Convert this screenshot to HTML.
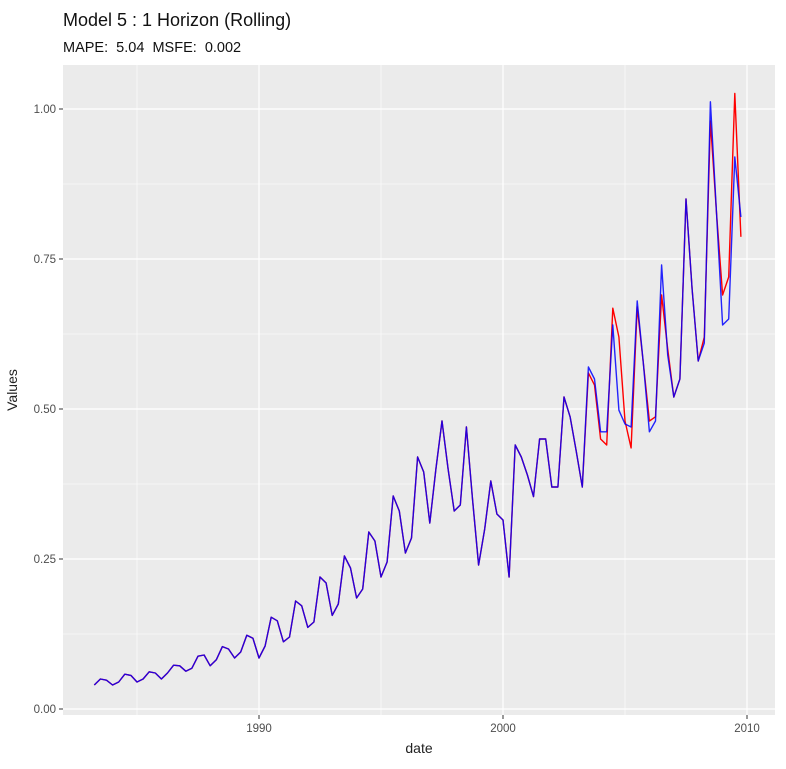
<!DOCTYPE html>
<html><head><meta charset="utf-8"><style>
body{margin:0;background:#fff;font-family:"Liberation Sans",Arial,sans-serif;}
svg text{font-family:"Liberation Sans",Arial,sans-serif;}
</style></head><body>
<svg id="chart" width="786" height="764">
<text x="63" y="26" font-size="18" fill="#111">Model 5 : 1 Horizon (Rolling)</text>
<text x="63" y="52" font-size="14.5" fill="#111" style="white-space:pre" xml:space="preserve">MAPE:  5.04  MSFE:  0.002</text>
<rect x="63" y="65" width="712" height="650" fill="#EBEBEB"/>
<g id="grid"></g>
<g id="axes"></g>
<g id="series"></g>
<text x="419" y="753" font-size="14" fill="#222" text-anchor="middle">date</text>
<text transform="translate(17,390) rotate(-90)" font-size="14" fill="#222" text-anchor="middle">Values</text>
</svg>
<script>
const startYear = 1983.25;
const actualValues = [
0.04,0.05,0.048,
0.04,0.045,0.058,0.056,
0.045,0.05,0.062,0.06,
0.05,0.06,0.073,0.072,
0.063,0.068,0.088,0.09,
0.072,0.082,0.104,0.10,
0.085,0.095,0.123,0.118,
0.085,0.105,0.153,0.147,
0.112,0.12,0.18,0.172,
0.136,0.145,0.22,0.21,
0.156,0.175,0.255,0.235,
0.185,0.2,0.295,0.28,
0.22,0.245,0.355,0.33,
0.26,0.285,0.42,0.395,
0.31,0.40,0.48,0.40,
0.33,0.34,0.47,0.35,
0.24,0.30,0.38,0.325,
0.315,0.22,0.44,0.42,
0.39,0.354,0.45,0.45,
0.37,0.37,0.52,0.487,
0.43,0.37,0.57,0.55,
0.462,0.462,0.64,0.498,
0.475,0.47,0.68,0.577,
0.462,0.48,0.74,0.59,
0.52,0.55,0.85,0.70,
0.58,0.61,1.012,0.827,
0.64,0.65,0.92,0.82];
const forecastValues = [
0.04,0.05,0.048,
0.04,0.045,0.058,0.056,
0.045,0.05,0.062,0.06,
0.05,0.06,0.073,0.072,
0.063,0.068,0.088,0.09,
0.072,0.082,0.104,0.10,
0.085,0.095,0.123,0.118,
0.085,0.105,0.153,0.147,
0.112,0.12,0.18,0.172,
0.136,0.145,0.22,0.21,
0.156,0.175,0.255,0.235,
0.185,0.2,0.295,0.28,
0.22,0.245,0.355,0.33,
0.26,0.285,0.42,0.395,
0.31,0.40,0.48,0.40,
0.33,0.34,0.47,0.35,
0.24,0.30,0.38,0.325,
0.315,0.22,0.44,0.42,
0.39,0.354,0.45,0.45,
0.37,0.37,0.52,0.487,
0.43,0.37,0.56,0.54,
0.45,0.44,0.668,0.62,
0.48,0.435,0.67,0.577,
0.48,0.487,0.69,0.60,
0.52,0.55,0.85,0.70,
0.58,0.62,0.98,0.827,
0.69,0.72,1.026,0.787];
const xTicks = [1990, 2000, 2010];
const xMinor = [1985, 1995, 2005];
const yTicks = [0, 0.25, 0.5, 0.75, 1.0];
const yTickLabels = ["0.00","0.25","0.50","0.75","1.00"];
const yMinor = [0.125, 0.375, 0.625, 0.875];

function xs(t){ return 259 + (t - 1990) * 24.4; }
function ys(v){ return 709 - v * 600; }
const NS = "http://www.w3.org/2000/svg";
function mk(tag, attrs, parent){ const e = document.createElementNS(NS, tag); for (const k in attrs) e.setAttribute(k, attrs[k]); parent.appendChild(e); return e; }
const grid = document.getElementById('grid'), axes = document.getElementById('axes'), series = document.getElementById('series');
yMinor.forEach(v => { const l = mk('line', {x1:63, x2:775, y1:ys(v), y2:ys(v), stroke:'#fff', 'stroke-width':0.6}, grid);
  
   });
xMinor.forEach(t => { const l = mk('line', {x1:xs(t), x2:xs(t), y1:65, y2:715, stroke:'#fff', 'stroke-width':0.6}, grid);
  
   });
yTicks.forEach((v, i) => {
  const l = mk('line', {x1:63, x2:775, y1:ys(v), y2:ys(v), stroke:'#fff', 'stroke-width':1.2}, grid);
  
  
  const tk = mk('line', {x1:59, x2:63, y1:ys(v), y2:ys(v), stroke:'#333', 'stroke-width':1}, axes);
  
  
  const tx = mk('text', {x:56, y:ys(v)+4, 'font-size':11.5, fill:'#4d4d4d', 'text-anchor':'end'}, axes);
  tx.textContent = yTickLabels[i];
  
  
});
xTicks.forEach(t => {
  const l = mk('line', {x1:xs(t), x2:xs(t), y1:65, y2:715, stroke:'#fff', 'stroke-width':1.2}, grid);
  
  
  const tk = mk('line', {x1:xs(t), x2:xs(t), y1:715, y2:719, stroke:'#333', 'stroke-width':1}, axes);
  
  
  const tx = mk('text', {x:xs(t), y:732, 'font-size':11.5, fill:'#4d4d4d', 'text-anchor':'middle'}, axes);
  tx.textContent = String(t);
  
  
});
function pts(arr){ return arr.map((v, i) => xs(startYear + i * 0.25).toFixed(1) + ',' + ys(v).toFixed(1)).join(' '); }
const red = mk('polyline', {points:pts(forecastValues), fill:'none', stroke:'#FF0000', 'stroke-width':1.4, 'stroke-linejoin':'round'}, series);


const blue = mk('polyline', {points:pts(actualValues), fill:'none', stroke:'#0000FF', 'stroke-width':1.4, 'stroke-linejoin':'round', 'stroke-opacity':0.85}, series);


</script>
</body></html>
